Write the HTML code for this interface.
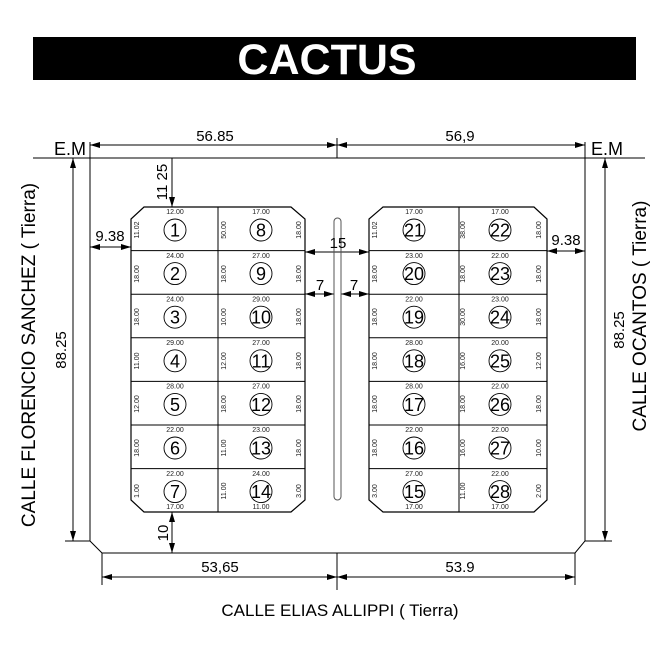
<!DOCTYPE html>
<html><head><meta charset="utf-8"><style>
body{margin:0;background:#fff;}
svg{display:block;font-family:"Liberation Sans",sans-serif;}
.s{font-size:7px;fill:#222;text-anchor:middle}
.n{font-size:18px;text-anchor:middle}
.d{font-size:15px;text-anchor:middle}
</style></head><body>
<svg width="670" height="670" viewBox="0 0 670 670" xmlns="http://www.w3.org/2000/svg">
<defs>
<marker id="a" viewBox="0 0 10 6" refX="10" refY="3" markerWidth="10" markerHeight="6" orient="auto-start-reverse" markerUnits="userSpaceOnUse"><path d="M0 0L10 3L0 6z" fill="#000"/></marker>
</defs>
<rect x="33" y="37" width="603" height="43" fill="#000"/>
<text x="327" y="74" font-size="43" font-weight="bold" fill="#fff" text-anchor="middle">CACTUS</text>

<g stroke="#000" fill="none" stroke-width="1">
<line x1="33" y1="158" x2="645" y2="158"/>
<path d="M90 142V541L102 553H575L585 541V142"/>
<line x1="90" y1="145" x2="337" y2="145" marker-start="url(#a)" marker-end="url(#a)"/>
<line x1="337" y1="145" x2="585" y2="145" marker-start="url(#a)" marker-end="url(#a)"/>
<line x1="337" y1="138" x2="337" y2="158"/>
<line x1="73" y1="158" x2="73" y2="541" marker-start="url(#a)" marker-end="url(#a)"/>
<line x1="65" y1="541" x2="90" y2="541"/>
<line x1="605" y1="158" x2="605" y2="541" marker-start="url(#a)" marker-end="url(#a)"/>
<line x1="585" y1="541" x2="612" y2="541"/>
<line x1="102" y1="553" x2="102" y2="585"/><line x1="575" y1="553" x2="575" y2="585"/>
<line x1="337" y1="553" x2="337" y2="590"/>
<line x1="102" y1="577" x2="337" y2="577" marker-start="url(#a)" marker-end="url(#a)"/>
<line x1="337" y1="577" x2="575" y2="577" marker-start="url(#a)" marker-end="url(#a)"/>
<line x1="172" y1="158" x2="172" y2="207" marker-end="url(#a)"/>
<line x1="172" y1="512" x2="172" y2="553" marker-start="url(#a)" marker-end="url(#a)"/>
<line x1="90" y1="247" x2="131" y2="247" marker-start="url(#a)" marker-end="url(#a)"/>
<line x1="547" y1="251" x2="585" y2="251" marker-start="url(#a)" marker-end="url(#a)"/>
<line x1="305" y1="252" x2="369" y2="252" marker-start="url(#a)" marker-end="url(#a)"/>
<line x1="305" y1="294" x2="334" y2="294" marker-start="url(#a)" marker-end="url(#a)"/>
<line x1="341" y1="294" x2="369" y2="294" marker-start="url(#a)" marker-end="url(#a)"/>
<rect x="334" y="218" width="7" height="282" rx="3.5" stroke="#555"/>
<path d="M144 207H291L305 219V500L291 512H144L131 500V219Z" stroke-width="1.2"/>
<path d="M383 207H534L547 219V500L534 512H383L369 500V219Z" stroke-width="1.2"/>
<line x1="218" y1="207" x2="218" y2="512"/>
<line x1="459" y1="207" x2="459" y2="512"/>
<path d="M131 250.6H305M131 294.2H305M131 337.8H305M131 381.4H305M131 425H305M131 468.6H305"/>
<path d="M369 250.6H547M369 294.2H547M369 337.8H547M369 381.4H547M369 425H547M369 468.6H547"/>
<g stroke-width="0.9">
<circle cx="175" cy="230" r="11"/><circle cx="261" cy="230" r="11"/><circle cx="414" cy="230" r="11"/><circle cx="500" cy="230" r="11"/>
<circle cx="175" cy="273.6" r="11"/><circle cx="261" cy="273.6" r="11"/><circle cx="414" cy="273.6" r="11"/><circle cx="500" cy="273.6" r="11"/>
<circle cx="175" cy="317.2" r="11"/><circle cx="261" cy="317.2" r="11"/><circle cx="414" cy="317.2" r="11"/><circle cx="500" cy="317.2" r="11"/>
<circle cx="175" cy="360.8" r="11"/><circle cx="261" cy="360.8" r="11"/><circle cx="414" cy="360.8" r="11"/><circle cx="500" cy="360.8" r="11"/>
<circle cx="175" cy="404.4" r="11"/><circle cx="261" cy="404.4" r="11"/><circle cx="414" cy="404.4" r="11"/><circle cx="500" cy="404.4" r="11"/>
<circle cx="175" cy="448" r="11"/><circle cx="261" cy="448" r="11"/><circle cx="414" cy="448" r="11"/><circle cx="500" cy="448" r="11"/>
<circle cx="175" cy="491.6" r="11"/><circle cx="261" cy="491.6" r="11"/><circle cx="414" cy="491.6" r="11"/><circle cx="500" cy="491.6" r="11"/>
</g>
</g>

<g>
<text x="175" y="236.5" class="n">1</text><text x="261" y="236.5" class="n">8</text><text x="414" y="236.5" class="n">21</text><text x="500" y="236.5" class="n">22</text>
<text x="175" y="280" class="n">2</text><text x="261" y="280" class="n">9</text><text x="414" y="280" class="n">20</text><text x="500" y="280" class="n">23</text>
<text x="175" y="323.7" class="n">3</text><text x="261" y="323.7" class="n">10</text><text x="414" y="323.7" class="n">19</text><text x="500" y="323.7" class="n">24</text>
<text x="175" y="367.3" class="n">4</text><text x="261" y="367.3" class="n">11</text><text x="414" y="367.3" class="n">18</text><text x="500" y="367.3" class="n">25</text>
<text x="175" y="410.9" class="n">5</text><text x="261" y="410.9" class="n">12</text><text x="414" y="410.9" class="n">17</text><text x="500" y="410.9" class="n">26</text>
<text x="175" y="454.5" class="n">6</text><text x="261" y="454.5" class="n">13</text><text x="414" y="454.5" class="n">16</text><text x="500" y="454.5" class="n">27</text>
<text x="175" y="498" class="n">7</text><text x="261" y="498" class="n">14</text><text x="414" y="498" class="n">15</text><text x="500" y="498" class="n">28</text>
</g>
<g>
<text x="175" y="214" class="s">12.00</text><text x="261" y="214" class="s">17.00</text><text x="414" y="214" class="s">17.00</text><text x="500" y="214" class="s">17.00</text>
<text x="175" y="258" class="s">24.00</text><text x="261" y="258" class="s">27.00</text><text x="414" y="258" class="s">23.00</text><text x="500" y="258" class="s">22.00</text>
<text x="175" y="301.5" class="s">24.00</text><text x="261" y="301.5" class="s">29.00</text><text x="414" y="301.5" class="s">22.00</text><text x="500" y="301.5" class="s">23.00</text>
<text x="175" y="345" class="s">29.00</text><text x="261" y="345" class="s">27.00</text><text x="414" y="345" class="s">28.00</text><text x="500" y="345" class="s">20.00</text>
<text x="175" y="388.5" class="s">28.00</text><text x="261" y="388.5" class="s">27.00</text><text x="414" y="388.5" class="s">28.00</text><text x="500" y="388.5" class="s">22.00</text>
<text x="175" y="432" class="s">22.00</text><text x="261" y="432" class="s">23.00</text><text x="414" y="432" class="s">22.00</text><text x="500" y="432" class="s">22.00</text>
<text x="175" y="476" class="s">22.00</text><text x="261" y="476" class="s">24.00</text><text x="414" y="476" class="s">27.00</text><text x="500" y="476" class="s">22.00</text>
<text x="175" y="509" class="s">17.00</text><text x="261" y="509" class="s">11.00</text><text x="414" y="509" class="s">17.00</text><text x="500" y="509" class="s">17.00</text>
</g>
<g class="s">
<text transform="translate(139,230) rotate(-90)">11.02</text><text transform="translate(226,230) rotate(-90)">50.00</text><text transform="translate(301,230) rotate(-90)">18.00</text>
<text transform="translate(377,230) rotate(-90)">11.02</text><text transform="translate(465,230) rotate(-90)">38.00</text><text transform="translate(541,230) rotate(-90)">18.00</text>
<text transform="translate(139,274) rotate(-90)">18.00</text><text transform="translate(226,274) rotate(-90)">18.00</text><text transform="translate(301,274) rotate(-90)">18.00</text>
<text transform="translate(377,274) rotate(-90)">18.00</text><text transform="translate(465,274) rotate(-90)">18.00</text><text transform="translate(541,274) rotate(-90)">18.00</text>
<text transform="translate(139,317) rotate(-90)">18.00</text><text transform="translate(226,317) rotate(-90)">10.00</text><text transform="translate(301,317) rotate(-90)">18.00</text>
<text transform="translate(377,317) rotate(-90)">18.00</text><text transform="translate(465,317) rotate(-90)">30.00</text><text transform="translate(541,317) rotate(-90)">18.00</text>
<text transform="translate(139,361) rotate(-90)">11.00</text><text transform="translate(226,361) rotate(-90)">12.00</text><text transform="translate(301,361) rotate(-90)">18.00</text>
<text transform="translate(377,361) rotate(-90)">18.00</text><text transform="translate(465,361) rotate(-90)">16.00</text><text transform="translate(541,361) rotate(-90)">12.00</text>
<text transform="translate(139,404) rotate(-90)">12.00</text><text transform="translate(226,404) rotate(-90)">18.00</text><text transform="translate(301,404) rotate(-90)">18.00</text>
<text transform="translate(377,404) rotate(-90)">18.00</text><text transform="translate(465,404) rotate(-90)">18.00</text><text transform="translate(541,404) rotate(-90)">18.00</text>
<text transform="translate(139,448) rotate(-90)">18.00</text><text transform="translate(226,448) rotate(-90)">11.00</text><text transform="translate(301,448) rotate(-90)">18.00</text>
<text transform="translate(377,448) rotate(-90)">18.00</text><text transform="translate(465,448) rotate(-90)">16.00</text><text transform="translate(541,448) rotate(-90)">10.00</text>
<text transform="translate(139,491) rotate(-90)">1.00</text><text transform="translate(226,491) rotate(-90)">11.00</text><text transform="translate(301,491) rotate(-90)">3.00</text>
<text transform="translate(377,491) rotate(-90)">3.00</text><text transform="translate(465,491) rotate(-90)">11.00</text><text transform="translate(541,491) rotate(-90)">2.00</text>
</g>

<text x="215" y="141" class="d">56.85</text>
<text x="460" y="141" class="d">56,9</text>
<text x="220" y="572" class="d">53,65</text>
<text x="460" y="572" class="d">53.9</text>
<text x="110" y="241" class="d" font-size="14">9.38</text>
<text x="566" y="245" class="d" font-size="14">9.38</text>
<text x="338" y="248" class="d">15</text>
<text x="320" y="290" class="d">7</text>
<text x="354" y="290" class="d">7</text>
<text transform="translate(167,182) rotate(-90)" class="d" font-size="14">11 25</text>
<text transform="translate(168,533) rotate(-90)" class="d" font-size="14">10</text>
<text transform="translate(66,350) rotate(-90)" class="d" font-size="14">88.25</text>
<text transform="translate(624,330) rotate(-90)" class="d" font-size="14">88.25</text>
<text x="70" y="155" font-size="18" text-anchor="middle">E.M</text>
<text x="607" y="155" font-size="18" text-anchor="middle">E.M</text>
<text transform="translate(35,355) rotate(-90)" font-size="19" text-anchor="middle">CALLE FLORENCIO SANCHEZ ( Tierra)</text>
<text transform="translate(646,316) rotate(-90)" font-size="19" text-anchor="middle">CALLE OCANTOS ( Tierra)</text>
<text x="340" y="616" font-size="17" text-anchor="middle">CALLE ELIAS ALLIPPI ( Tierra)</text>
</svg>
</body></html>
